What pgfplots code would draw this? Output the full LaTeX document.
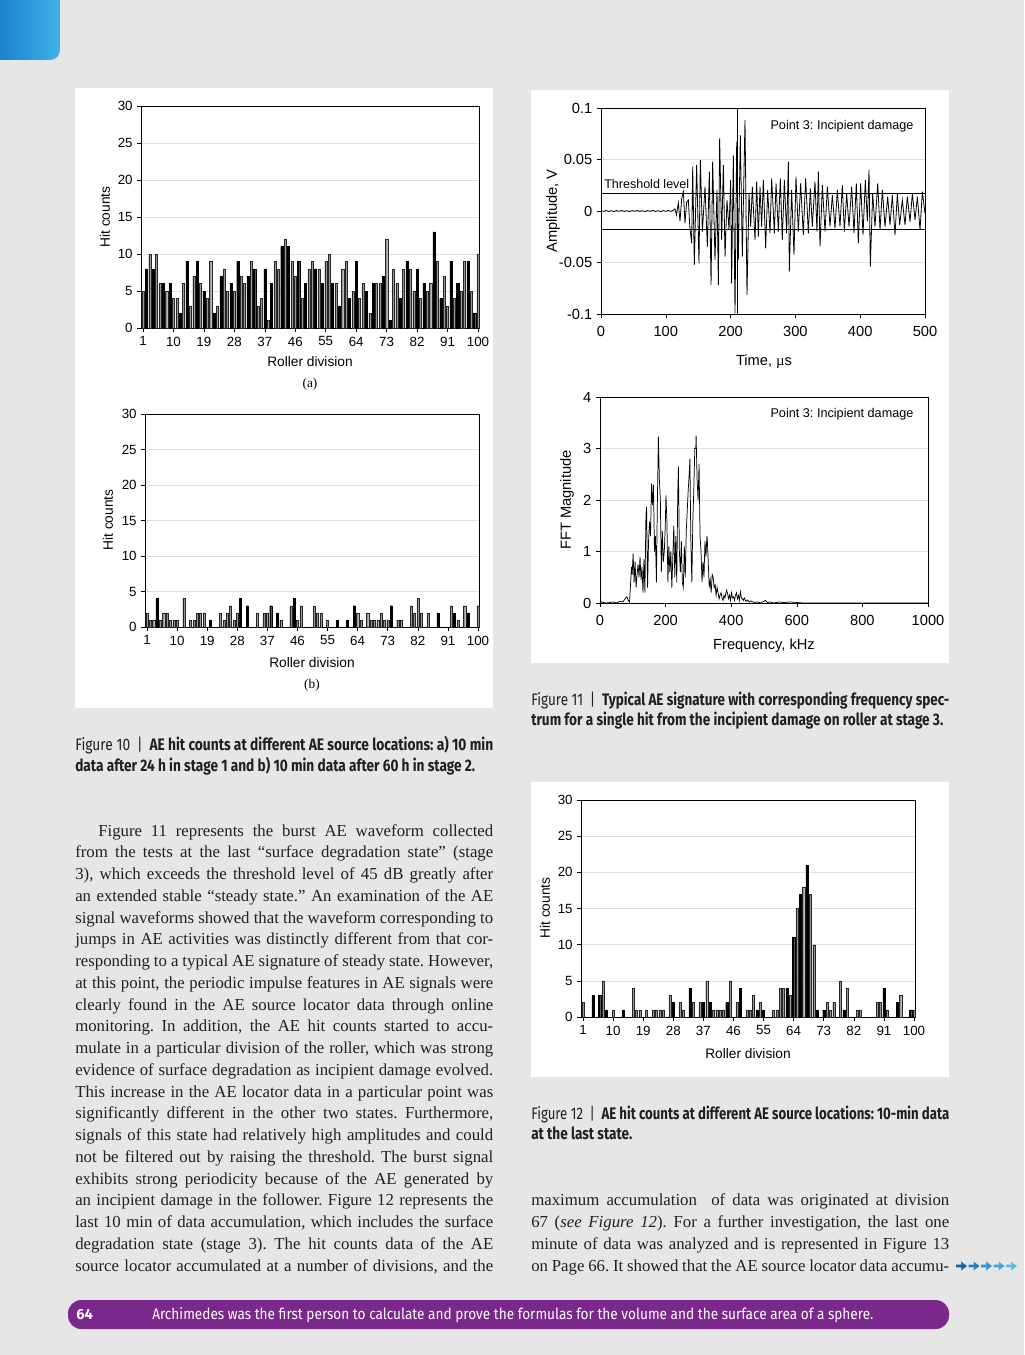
\documentclass[border=0pt]{standalone}
\usepackage{fontspec}
\setmainfont{Liberation Serif}
\newfontfamily\arial{Liberation Sans}
\newfontfamily\fira{Fira Sans}
\usepackage{graphicx}
\usepackage{pgfplots}
\pgfplotsset{compat=1.18}
\frenchspacing

\definecolor{pagebg}{RGB}{230,230,230}
\definecolor{purp}{RGB}{122,40,140}
\definecolor{gridc}{RGB}{222,222,222}
\definecolor{barg}{RGB}{150,150,150}
\definecolor{tabA}{RGB}{18,112,196}
\definecolor{tabB}{RGB}{62,178,234}
\definecolor{txt}{RGB}{35,31,32}
\definecolor{arA}{RGB}{20,95,170}
\definecolor{arB}{RGB}{35,125,195}
\definecolor{arC}{RGB}{45,150,210}
\definecolor{arD}{RGB}{60,170,225}
\definecolor{arE}{RGB}{85,190,235}

\newcommand\tl{\arial\fontsize{10}{12}\selectfont}
\newcommand\tlb{\arial\fontsize{11}{13}\selectfont}
\newcommand\lab{\arial\fontsize{10.3}{12}\selectfont}
\newcommand\body{\fontsize{12.6}{15}\selectfont}
\newcommand\capf{\fira\fontsize{12.5}{15}\selectfont}
\newcommand\BL[3]{\node[anchor=base west,inner sep=0pt,font=\body,text=txt] at (#1,#2) {\makebox[313.5pt][s]{#3}};}
\newcommand\arr[2]{\fill[#2] (#1,1264.6) -- (#1+5.5,1264.6) -- (#1+5,1261.5) -- (#1+11,1266) -- (#1+5,1270.5) -- (#1+5.5,1267.4) -- (#1,1267.4) -- cycle;}

\pgfplotsset{
  hitbar/.style={scale only axis, anchor=south west,
    xmin=0.5, xmax=100.5, ymin=0, ymax=30,
    xtick={1,10,...,100}, ytick={0,5,...,30},
    ymajorgrids, grid style={gridc,line width=0.5pt},
    axis line style={line width=0.5pt},
    tick pos=left, tick align=outside, major tick length=3pt,
    tick style={black,line width=0.4pt},
    tick label style={font=\tl},
    /pgf/number format/assume math mode=true},
  gb/.style={ybar, bar width=0.62, bar shift=0pt, fill=barg, draw=black!85, line width=0.25pt},
  kb/.style={ybar, bar width=0.62, bar shift=0pt, fill=black, draw=black, line width=0.25pt},
  sig/.style={scale only axis, anchor=south west,
    axis line style={line width=0.5pt},
    ymajorgrids, grid style={gridc,line width=0.5pt},
    tick pos=left, tick align=outside, major tick length=3pt,
    tick style={black,line width=0.4pt},
    tick label style={font=\tlb},
    xticklabel style={yshift=-2.5pt},
    /pgf/number format/assume math mode=true,
    /pgf/number format/1000 sep={}}
}

\begin{document}
\begin{tikzpicture}[x=0.75pt,y=-0.75pt]
\path[use as bounding box] (0,0) rectangle (1024,1355);
\fill[pagebg] (0,0) rectangle (1024,1355);
\shade[rounded corners=7.5pt,left color=tabA,right color=tabB] (-20,-20) rectangle (60,60);
\fill[white] (75,88) rectangle (493,708);
\fill[white] (531,90) rectangle (949,663);
\fill[white] (531,782) rectangle (949,1077);

% ---------- Figure 10 (a)
\begin{axis}[hitbar, at={(105.975pt,-246pt)}, width=253.8pt, height=166.5pt]
\addplot[gb] coordinates {(1,5) (3,10) (5,10) (6,6) (8,5) (10,4) (11,4) (13,6) (15,3) (16,7) (18,6) (20,4) (21,9) (23,3) (25,8) (26,5) (28,5) (30,7) (31,6) (33,9) (35,3) (36,4) (38,1) (40,9) (41,8) (43,12) (45,9) (46,7) (48,4) (50,8) (51,9) (53,8) (55,9) (56,10) (58,6) (60,8) (61,9) (63,5) (65,4) (66,6) (68,2) (70,6) (71,6) (73,12) (75,8) (76,6) (78,8) (80,8) (81,5) (83,4) (85,5) (86,6) (88,9) (90,7) (91,3) (93,4) (95,5) (96,9) (98,5) (100,10)};
\addplot[kb] coordinates {(2,8) (4,8) (7,6) (9,6) (12,2) (14,9) (17,9) (19,5) (22,2) (24,7) (27,6) (29,9) (32,7) (34,8) (37,8) (39,6) (42,11) (44,11) (47,9) (49,6) (52,8) (54,6) (57,6) (59,3) (62,4) (64,9) (67,5) (69,6) (72,7) (74,1) (77,4) (79,9) (82,8) (84,6) (87,13) (89,4) (92,9) (94,6) (97,9) (99,2)};
\end{axis}
\node[font=\lab,rotate=90] at (105,217) {Hit counts};
\node[font=\lab] at (310,362) {Roller division};
\node[font=\fontsize{10}{12}\selectfont] at (310,384) {(a)};

% ---------- Figure 10 (b)
\begin{axis}[hitbar, at={(108.975pt,-470.25pt)}, width=250.8pt, height=159.75pt]
\addplot[gb] coordinates {(1,2) (2,1) (3,1) (5,1) (6,2) (7,2) (8,1) (9,1) (10,1) (12,4) (14,1) (15,1) (16,2) (17,2) (18,2) (23,2) (24,1) (25,2) (26,3) (27,1) (28,2) (34,2) (36,2) (37,2) (41,1) (44,3) (46,1) (47,3) (51,3) (52,2) (53,2) (55,1) (64,2) (65,1) (67,2) (68,1) (69,1) (70,1) (71,2) (72,1) (73,1) (76,1) (77,1) (80,3) (81,2) (82,4) (83,2) (85,2) (92,3) (94,1) (96,3) (100,3)};
\addplot[kb] coordinates {(4,4) (20,1) (29,4) (31,3) (38,3) (40,2) (45,4) (58,1) (61,1) (63,3) (74,3) (88,2) (93,2) (97,2)};
\end{axis}
\node[font=\lab,rotate=90] at (108,520) {Hit counts};
\node[font=\lab] at (312,663) {Roller division};
\node[font=\fontsize{10}{12}\selectfont] at (312,685) {(b)};

% ---------- Figure 11 top
\begin{axis}[sig, at={(450.75pt,-235.5pt)}, width=243pt, height=154.5pt,
  xmin=0, xmax=500, ymin=-0.1, ymax=0.1,
  xtick={0,100,...,500},
  ytick={-0.1,-0.05,0,0.05,0.1}, yticklabels={-0.1,-0.05,0,0.05,0.1}]
\addplot[black,line width=0.45pt] coordinates {(0,0.0175) (500,0.0175)};
\addplot[black,line width=0.45pt] coordinates {(0,-0.0175) (500,-0.0175)};
\addplot[black,line width=0.45pt] coordinates {(210,-0.1) (210,0.1)};
\addplot[black,line width=0.6pt] coordinates {(0,0.0004) (4,-0.0003) (8,0.0005) (12,-0.0004) (16,0.0003) (20,-0.0005) (24,0.0004) (28,-0.0003) (32,0.0005) (36,-0.0004) (40,0.0003) (44,-0.0005) (48,0.0004) (52,-0.0003) (56,0.0005) (60,-0.0004) (64,0.0003) (68,-0.0005) (72,0.0004) (76,-0.0003) (80,0.0005) (84,-0.0004) (88,0.0003) (92,-0.0005) (96,0.0004) (100,-0.0003) (104,0.0005) (108,-0.0004) (112,0.001)
(114.2,0.002) (116.5,-0.004) (119.3,0.008) (121.9,-0.010) (124.5,0.012) (127.1,0.0188) (129.6,-0.0120) (132,0.008) (134.8,0.0107) (137,-0.015) (139.9,-0.0314) (141.5,0.0430) (144.0,-0.0524) (147.6,0.0447) (151.2,-0.0508) (153.3,0.0495) (156.4,-0.0201) (160.5,0.0236) (164.1,-0.0346) (167.2,0.0382) (169.8,-0.0719) (172.3,0.0479) (175.9,-0.0476) (179.0,0.0204) (181.1,-0.0719) (183.1,0.0706) (186.2,-0.0282) (188.8,0.0447) (191.4,-0.0443) (194.4,0.0107) (197.5,-0.0184) (200.1,0.0301) (201.6,-0.0702) (204.2,0.0544) (206.8,-0.0994) (209.4,0.0673) (211.9,-0.0476) (215.0,0.0738) (218.1,-0.0443) (222.2,0.0884) (225.3,-0.0816) (228.4,0.0172) (231.0,-0.0152) (233.5,0.0236) (237.7,-0.0282) (240.2,0.0285) (242.8,-0.0249) (245.4,0.0236) (247.9,-0.0152) (250.5,0.0301) (254.1,-0.0362) (257.2,0.0204) (260.8,-0.0217) (263.4,0.0317) (267.5,-0.0217) (270.1,0.0269) (273.7,-0.0201) (276.7,0.0317) (279.8,-0.0282) (282.9,0.0301) (286.5,-0.0217) (289.1,0.0479) (290.6,-0.0589) (294.2,0.0204) (297.8,-0.0427) (300.9,0.0333) (304.5,-0.0201) (308.1,0.0269) (312.2,-0.0233) (315.8,0.0317) (320.0,-0.0217) (323.0,0.0220) (326.1,-0.0152) (330.2,0.0285) (333.3,-0.0201) (335.4,0.0382) (338.0,-0.0346) (341.6,0.0252) (345.7,-0.0201) (349.3,0.0236) (353.4,-0.0152) (357.0,0.0155) (361.1,-0.0168) (364.7,0.0204) (368.8,-0.0152) (372.4,0.0252) (375.5,-0.0201) (379.1,0.0172) (382.7,-0.0152) (386.8,0.0236) (390.4,-0.0217) (394.0,0.0269) (397.1,-0.0314) (400.7,0.0269) (404.3,-0.0233) (407.9,0.0301) (411,-0.010) (413.6,0.0398) (415.6,-0.0541) (419.2,0.0172) (422.8,-0.0152) (427.0,0.0269) (430.6,-0.0184) (434.2,0.0204) (438.3,-0.0152) (442.4,0.0139) (446.0,-0.0136) (449.6,0.0155) (453.7,-0.0233) (457.3,0.0172) (460.9,-0.0136) (465.0,0.0107) (469.1,-0.0136) (472.7,0.0139) (476.9,-0.0104) (480.5,0.0172) (484.6,-0.0087) (488.2,0.0139) (492.3,-0.0184) (495.9,0.0188) (500.0,-0.0023)};
\end{axis}
\node[font=\arial\fontsize{11}{13}\selectfont,rotate=90] at (553,211) {Amplitude, V};
\node[font=\arial\fontsize{11}{13}\selectfont] at (764,362) {Time, {\rmfamily µ}s};
\node[font=\arial\fontsize{9.5}{11}\selectfont] at (842,126) {Point 3: Incipient damage};
\node[font=\arial\fontsize{9.4}{11}\selectfont,anchor=west,inner sep=0pt] at (604,184) {Threshold level};

% ---------- Figure 11 bottom
\begin{axis}[sig, at={(450pt,-452.25pt)}, width=246pt, height=154.5pt,
  xmin=0, xmax=1000, ymin=0, ymax=4,
  xtick={0,200,...,1000}, ytick={0,1,...,4}]
\addplot[black,line width=0.55pt] coordinates {(0,0.15) (3,0.02) (10,0.01) (20,0) (40,0.02) (50,0) (60,0.03) (70,0.02) (78,0.1) (82,0.12) (86,0.05) (90,0.02) (93,0.35) (96,0.7) (98,0.55) (101,0.96) (104,0.4) (107,0.8) (110,0.3) (113,0.55) (116,0.75) (119,0.5) (122,0.9) (125,0.45) (128,0.7) (131,0.2) (134,0.85) (137,0.2) (140,1.7) (142,1.87) (145,0.3) (148,1.2) (151,1.58) (154,1.3) (157,2.32) (160,1.9) (163,2.3) (166,1.0) (169,1.3) (172,0.4) (175,2.0) (178,3.23) (181,2.4) (184,2.0) (187,0.6) (190,1.4) (193,0.8) (196,1.0) (199,1.5) (201,2.09) (204,1.6) (207,0.4) (210,1.1) (213,0.6) (216,1.0) (219,0.3) (222,0.9) (225,1.5) (228,0.5) (231,1.3) (234,0.4) (237,2.1) (239,2.65) (242,1.0) (245,0.6) (248,1.2) (251,0.4) (254,0.3) (257,1.1) (260,0.5) (263,1.4) (266,1.8) (269,2.2) (272,2.5) (274,2.8) (277,1.2) (280,0.4) (283,1.6) (286,2.2) (289,3.0) (292,3.0) (293,3.25) (296,2.4) (299,2.0) (302,2.7) (305,1.3) (308,1.0) (311,0.4) (314,0.8) (317,0.5) (320,1.2) (323,0.9) (326,1.3) (327,1.25) (330,0.8) (333,0.3) (336,0.45) (339,0.2) (342,0.55) (345,0.5) (348,0.3) (351,0.35) (354,0.15) (357,0.3) (360,0.2) (363,0.08) (366,0.15) (369,0.2) (372,0.1) (375,0.05) (378,0.15) (381,0.1) (384,0.2) (386,0.25) (389,0.18) (392,0.08) (395,0.15) (398,0.05) (401,0.2) (404,0.1) (407,0.12) (410,0.05) (413,0.15) (416,0.2) (419,0.08) (422,0.15) (425,0.05) (428,0.22) (431,0.1) (434,0.08) (437,0.05) (440,0.1) (445,0.03) (450,0.06) (455,0.02) (460,0.04) (470,0.01) (480,0.02) (490,0.0) (500,0.03) (505,0.05) (510,0.01) (520,0.02) (530,0.0) (545,0.02) (560,0.01) (580,0.02) (600,0.01) (620,0.0) (1000,0)};
\end{axis}
\node[font=\arial\fontsize{11}{13}\selectfont,rotate=90] at (567,500) {FFT Magnitude};
\node[font=\arial\fontsize{11}{13}\selectfont] at (764,646) {Frequency, kHz};
\node[font=\arial\fontsize{9.5}{11}\selectfont] at (842,414) {Point 3: Incipient damage};

% ---------- Figure 12
\begin{axis}[hitbar, at={(435.975pt,-762.75pt)}, width=250.8pt, height=162.75pt]
\addplot[gb] coordinates {(1,2) (7,5) (10,1) (16,4) (17,1) (18,1) (20,1) (22,1) (23,1) (24,1) (25,1) (27,3) (30,2) (31,1) (34,2) (36,2) (38,5) (40,1) (41,1) (42,1) (43,1) (45,5) (47,2) (50,1) (51,1) (52,3) (54,2) (58,1) (59,1) (60,4) (61,4) (63,3) (65,15) (67,18) (69,17) (70,10) (74,2) (75,1) (76,2) (78,5) (80,4) (83,1) (84,1) (89,2) (90,2) (92,1) (96,3) (100,1)};
\addplot[kb] coordinates {(4,3) (6,3) (8,1) (13,1) (28,2) (33,4) (37,2) (39,2) (44,2) (48,4) (53,1) (55,1) (62,4) (64,11) (66,17) (68,21) (71,1) (73,1) (79,1) (91,4) (95,2) (99,1)};
\end{axis}
\node[font=\lab,rotate=90] at (545,908) {Hit counts};
\node[font=\lab] at (748,1054) {Roller division};

% ---------- captions
\node[anchor=base west,inner sep=0pt,text=txt] at (75,750) {\resizebox{313.5pt}{\height}{\capf Figure 10\enspace|\enspace{\bfseries AE hit counts at different AE source locations: a) 10 min}}};
\node[anchor=base west,inner sep=0pt,text=txt] at (75,771) {\resizebox{300pt}{\height}{\capf\bfseries data after 24 h in stage 1 and b) 10 min data after 60 h in stage 2.}};
\node[anchor=base west,inner sep=0pt,text=txt] at (531,705) {\resizebox{313.5pt}{\height}{\capf Figure 11\enspace|\enspace{\bfseries Typical AE signature with corresponding frequency spec-}}};
\node[anchor=base west,inner sep=0pt,text=txt] at (531,725) {\resizebox{309pt}{\height}{\capf\bfseries trum for a single hit from the incipient damage on roller at stage 3.}};
\node[anchor=base west,inner sep=0pt,text=txt] at (531,1119) {\resizebox{313.5pt}{\height}{\capf Figure 12\enspace|\enspace{\bfseries AE hit counts at different AE source locations: 10-min data}}};
\node[anchor=base west,inner sep=0pt,text=txt] at (531,1139) {\resizebox{75.75pt}{\height}{\capf\bfseries at the last state.}};

% ---------- body text, left column
\node[anchor=base west,inner sep=0pt,font=\body,text=txt] at (98,836) {\makebox[296.25pt][s]{Figure 11 represents the burst AE waveform collected}};
\BL{75}{857.75}{from the tests at the last “surface degradation state” (stage}
\BL{75}{879.5}{3), which exceeds the threshold level of 45 dB greatly after}
\BL{75}{901.25}{an extended stable “steady state.” An examination of the AE}
\BL{75}{923}{signal waveforms showed that the waveform corresponding to}
\BL{75}{944.75}{jumps in AE activities was distinctly different from that cor-}
\BL{75}{966.5}{responding to a typical AE signature of steady state. However,}
\BL{75}{988.25}{at this point, the periodic impulse features in AE signals were}
\BL{75}{1010}{clearly found in the AE source locator data through online}
\BL{75}{1031.75}{monitoring. In addition, the AE hit counts started to accu-}
\BL{75}{1053.5}{mulate in a particular division of the roller, which was strong}
\BL{75}{1075.25}{evidence of surface degradation as incipient damage evolved.}
\BL{75}{1097}{This increase in the AE locator data in a particular point was}
\BL{75}{1118.75}{significantly different in the other two states. Furthermore,}
\BL{75}{1140.5}{signals of this state had relatively high amplitudes and could}
\BL{75}{1162.25}{not be filtered out by raising the threshold. The burst signal}
\BL{75}{1184}{exhibits strong periodicity because of the AE generated by}
\BL{75}{1205.75}{an incipient damage in the follower. Figure 12 represents the}
\BL{75}{1227.5}{last 10 min of data accumulation, which includes the surface}
\BL{75}{1249.25}{degradation state (stage 3). The hit counts data of the AE}
\BL{75}{1271}{source locator accumulated at a number of divisions, and the}

% ---------- body text, right column
\BL{531}{1205}{maximum accumulation \ of data was originated at division}
\BL{531}{1227}{67 (\textit{see Figure 12}). For a further investigation, the last one}
\BL{531}{1249}{minute of data was analyzed and is represented in Figure 13}
\BL{531}{1271}{on Page 66. It showed that the AE source locator data accumu-}
\arr{956}{arA}
\arr{968.5}{arB}
\arr{981}{arC}
\arr{993.5}{arD}
\arr{1006}{arE}

% ---------- footer
\fill[purp,rounded corners=10pt] (68,1300) rectangle (949,1329);
\node[anchor=base west,inner sep=0pt,text=white] at (76,1319.5) {\fira\bfseries\fontsize{11}{13}\selectfont 64};
\node[anchor=base west,inner sep=0pt,text=white] at (152,1319.5) {\resizebox{540.75pt}{\height}{\fira\fontsize{11.5}{13}\selectfont Archimedes was the first person to calculate and prove the formulas for the volume and the surface area of a sphere.}};
\end{tikzpicture}
\end{document}
